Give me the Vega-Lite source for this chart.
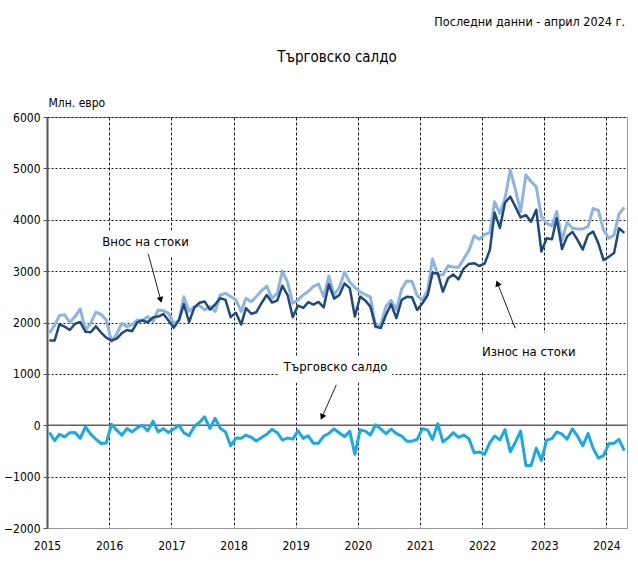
{
  "$schema": "https://vega.github.io/schema/vega-lite/v6.json",
  "width": 580,
  "height": 411,
  "autosize": {"type": "none"},
  "padding": {"left": 47, "top": 117, "right": 11, "bottom": 38},
  "background": "white",
  "config": {
    "font": "Liberation Sans Narrow, DejaVu Sans Condensed, sans-serif",
    "view": {"stroke": "#9a9a9a", "strokeWidth": 1},
    "axis": {
      "labelFont": "Liberation Sans Narrow, DejaVu Sans Condensed, sans-serif",
      "labelFontSize": 12,
      "labelColor": "#000000",
      "titleFont": "Liberation Sans Narrow, DejaVu Sans Condensed, sans-serif"
    }
  },
  "datasets": {
    "trade": [
      {"month": "2015-01-15", "imports": 1790, "exports": 1650, "balance": -140},
      {"month": "2015-02-15", "imports": 1950, "exports": 1650, "balance": -300},
      {"month": "2015-03-15", "imports": 2135, "exports": 1965, "balance": -175},
      {"month": "2015-04-15", "imports": 2150, "exports": 1920, "balance": -225},
      {"month": "2015-05-15", "imports": 2000, "exports": 1855, "balance": -145},
      {"month": "2015-06-15", "imports": 2115, "exports": 1975, "balance": -140},
      {"month": "2015-07-15", "imports": 2265, "exports": 2010, "balance": -255},
      {"month": "2015-08-15", "imports": 1850, "exports": 1820, "balance": -30},
      {"month": "2015-09-15", "imports": 1990, "exports": 1810, "balance": -175},
      {"month": "2015-10-15", "imports": 2200, "exports": 1925, "balance": -270},
      {"month": "2015-11-15", "imports": 2160, "exports": 1805, "balance": -355},
      {"month": "2015-12-15", "imports": 2050, "exports": 1705, "balance": -345},
      {"month": "2016-01-15", "imports": 1630, "exports": 1650, "balance": 20},
      {"month": "2016-02-15", "imports": 1780, "exports": 1685, "balance": -95},
      {"month": "2016-03-15", "imports": 1985, "exports": 1790, "balance": -195},
      {"month": "2016-04-15", "imports": 1920, "exports": 1855, "balance": -65},
      {"month": "2016-05-15", "imports": 1960, "exports": 1830, "balance": -130},
      {"month": "2016-06-15", "imports": 2050, "exports": 2005, "balance": -45},
      {"month": "2016-07-15", "imports": 2040, "exports": 2040, "balance": 0},
      {"month": "2016-08-15", "imports": 2115, "exports": 2005, "balance": -110},
      {"month": "2016-09-15", "imports": 2020, "exports": 2100, "balance": 80},
      {"month": "2016-10-15", "imports": 2245, "exports": 2115, "balance": -130},
      {"month": "2016-11-15", "imports": 2230, "exports": 2165, "balance": -65},
      {"month": "2016-12-15", "imports": 2180, "exports": 2040, "balance": -140},
      {"month": "2017-01-15", "imports": 1975, "exports": 1900, "balance": -75},
      {"month": "2017-02-15", "imports": 2050, "exports": 2050, "balance": 0},
      {"month": "2017-03-15", "imports": 2500, "exports": 2355, "balance": -145},
      {"month": "2017-04-15", "imports": 2215, "exports": 2010, "balance": -205},
      {"month": "2017-05-15", "imports": 2310, "exports": 2285, "balance": -25},
      {"month": "2017-06-15", "imports": 2330, "exports": 2385, "balance": 55},
      {"month": "2017-07-15", "imports": 2245, "exports": 2410, "balance": 165},
      {"month": "2017-08-15", "imports": 2310, "exports": 2250, "balance": -60},
      {"month": "2017-09-15", "imports": 2215, "exports": 2350, "balance": 135},
      {"month": "2017-10-15", "imports": 2535, "exports": 2475, "balance": -60},
      {"month": "2017-11-15", "imports": 2570, "exports": 2440, "balance": -130},
      {"month": "2017-12-15", "imports": 2505, "exports": 2105, "balance": -400},
      {"month": "2018-01-15", "imports": 2440, "exports": 2190, "balance": -250},
      {"month": "2018-02-15", "imports": 2215, "exports": 1960, "balance": -255},
      {"month": "2018-03-15", "imports": 2470, "exports": 2280, "balance": -190},
      {"month": "2018-04-15", "imports": 2405, "exports": 2170, "balance": -235},
      {"month": "2018-05-15", "imports": 2505, "exports": 2200, "balance": -305},
      {"month": "2018-06-15", "imports": 2620, "exports": 2380, "balance": -240},
      {"month": "2018-07-15", "imports": 2710, "exports": 2535, "balance": -175},
      {"month": "2018-08-15", "imports": 2470, "exports": 2390, "balance": -80},
      {"month": "2018-09-15", "imports": 2570, "exports": 2425, "balance": -145},
      {"month": "2018-10-15", "imports": 3000, "exports": 2715, "balance": -285},
      {"month": "2018-11-15", "imports": 2780, "exports": 2530, "balance": -250},
      {"month": "2018-12-15", "imports": 2375, "exports": 2105, "balance": -270},
      {"month": "2019-01-15", "imports": 2440, "exports": 2330, "balance": -110},
      {"month": "2019-02-15", "imports": 2540, "exports": 2285, "balance": -255},
      {"month": "2019-03-15", "imports": 2600, "exports": 2395, "balance": -205},
      {"month": "2019-04-15", "imports": 2700, "exports": 2350, "balance": -350},
      {"month": "2019-05-15", "imports": 2750, "exports": 2400, "balance": -350},
      {"month": "2019-06-15", "imports": 2505, "exports": 2295, "balance": -210},
      {"month": "2019-07-15", "imports": 2905, "exports": 2745, "balance": -160},
      {"month": "2019-08-15", "imports": 2535, "exports": 2465, "balance": -70},
      {"month": "2019-09-15", "imports": 2685, "exports": 2535, "balance": -150},
      {"month": "2019-10-15", "imports": 2980, "exports": 2760, "balance": -220},
      {"month": "2019-11-15", "imports": 2790, "exports": 2670, "balance": -120},
      {"month": "2019-12-15", "imports": 2680, "exports": 2115, "balance": -565},
      {"month": "2020-01-15", "imports": 2595, "exports": 2505, "balance": -90},
      {"month": "2020-02-15", "imports": 2540, "exports": 2425, "balance": -115},
      {"month": "2020-03-15", "imports": 2500, "exports": 2310, "balance": -190},
      {"month": "2020-04-15", "imports": 1910, "exports": 1920, "balance": 10},
      {"month": "2020-05-15", "imports": 1960, "exports": 1890, "balance": -70},
      {"month": "2020-06-15", "imports": 2315, "exports": 2150, "balance": -165},
      {"month": "2020-07-15", "imports": 2430, "exports": 2355, "balance": -75},
      {"month": "2020-08-15", "imports": 2250, "exports": 2085, "balance": -165},
      {"month": "2020-09-15", "imports": 2650, "exports": 2440, "balance": -210},
      {"month": "2020-10-15", "imports": 2810, "exports": 2500, "balance": -310},
      {"month": "2020-11-15", "imports": 2800, "exports": 2490, "balance": -310},
      {"month": "2020-12-15", "imports": 2520, "exports": 2245, "balance": -275},
      {"month": "2021-01-15", "imports": 2440, "exports": 2375, "balance": -65},
      {"month": "2021-02-15", "imports": 2630, "exports": 2535, "balance": -95},
      {"month": "2021-03-15", "imports": 3235, "exports": 2960, "balance": -275},
      {"month": "2021-04-15", "imports": 2930, "exports": 2960, "balance": 30},
      {"month": "2021-05-15", "imports": 2925, "exports": 2600, "balance": -325},
      {"month": "2021-06-15", "imports": 3105, "exports": 2860, "balance": -245},
      {"month": "2021-07-15", "imports": 3080, "exports": 2935, "balance": -145},
      {"month": "2021-08-15", "imports": 3075, "exports": 2840, "balance": -235},
      {"month": "2021-09-15", "imports": 3240, "exports": 3050, "balance": -190},
      {"month": "2021-10-15", "imports": 3400, "exports": 3140, "balance": -260},
      {"month": "2021-11-15", "imports": 3690, "exports": 3155, "balance": -535},
      {"month": "2021-12-15", "imports": 3620, "exports": 3100, "balance": -520},
      {"month": "2022-01-15", "imports": 3710, "exports": 3145, "balance": -565},
      {"month": "2022-02-15", "imports": 3750, "exports": 3410, "balance": -340},
      {"month": "2022-03-15", "imports": 4350, "exports": 4140, "balance": -210},
      {"month": "2022-04-15", "imports": 4125, "exports": 3840, "balance": -285},
      {"month": "2022-05-15", "imports": 4415, "exports": 4330, "balance": -85},
      {"month": "2022-06-15", "imports": 4965, "exports": 4450, "balance": -515},
      {"month": "2022-07-15", "imports": 4590, "exports": 4255, "balance": -335},
      {"month": "2022-08-15", "imports": 4160, "exports": 4045, "balance": -115},
      {"month": "2022-09-15", "imports": 4875, "exports": 4090, "balance": -785},
      {"month": "2022-10-15", "imports": 4745, "exports": 3960, "balance": -785},
      {"month": "2022-11-15", "imports": 4640, "exports": 4195, "balance": -445},
      {"month": "2022-12-15", "imports": 4065, "exports": 3380, "balance": -685},
      {"month": "2023-01-15", "imports": 3930, "exports": 3640, "balance": -290},
      {"month": "2023-02-15", "imports": 3880, "exports": 3620, "balance": -260},
      {"month": "2023-03-15", "imports": 4160, "exports": 4030, "balance": -130},
      {"month": "2023-04-15", "imports": 3605, "exports": 3430, "balance": -175},
      {"month": "2023-05-15", "imports": 3945, "exports": 3675, "balance": -270},
      {"month": "2023-06-15", "imports": 3835, "exports": 3765, "balance": -70},
      {"month": "2023-07-15", "imports": 3820, "exports": 3610, "balance": -210},
      {"month": "2023-08-15", "imports": 3820, "exports": 3420, "balance": -400},
      {"month": "2023-09-15", "imports": 3865, "exports": 3705, "balance": -160},
      {"month": "2023-10-15", "imports": 4220, "exports": 3770, "balance": -450},
      {"month": "2023-11-15", "imports": 4180, "exports": 3540, "balance": -640},
      {"month": "2023-12-15", "imports": 3805, "exports": 3215, "balance": -590},
      {"month": "2024-01-15", "imports": 3640, "exports": 3280, "balance": -360},
      {"month": "2024-02-15", "imports": 3705, "exports": 3355, "balance": -350},
      {"month": "2024-03-15", "imports": 4110, "exports": 3835, "balance": -275},
      {"month": "2024-04-15", "imports": 4240, "exports": 3745, "balance": -495}
    ],
    "labels": [
      {"label": "Внос на стоки", "date": "2016-08-02", "v": 3574, "x0": "2015-11-25", "x1": "2017-04-14", "y0": 3276, "y1": 3798},
      {"label": "Търговско салдо", "date": "2019-08-24", "v": 1142, "x0": "2018-09-20", "x1": "2020-07-21", "y0": 825, "y1": 1350},
      {"label": "Износ на стоки", "date": "2022-10-02", "v": 1434, "x0": "2021-12-10", "x1": "2023-08-01", "y0": 1058, "y1": 1798}
    ],
    "arrows": [
      {"label": "Внос на стоки", "xa": "2016-08-18", "ya": 3335, "xb": "2016-10-30", "yb": 2440},
      {"label": "Търговско салдо", "xa": "2019-08-28", "ya": 786, "xb": "2019-06-05", "yb": 158},
      {"label": "Износ на стоки", "xa": "2022-07-14", "ya": 1889, "xb": "2022-04-01", "yb": 2765}
    ],
    "note": [
      {"text": "Последни данни - април 2024 г.", "date": "2024-05-01", "v": 7848}
    ],
    "heading": [
      {"text": "Търговско салдо", "date": "2019-09-01", "v": 7167}
    ],
    "zero": [{"v": 0}]
  },
  "layer": [
    {
      "data": {"name": "zero"},
      "mark": {"type": "rule", "color": "#606060", "strokeWidth": 1.5},
      "encoding": {
        "y": {
          "field": "v", "type": "quantitative",
          "title": "Млн. евро",
          "scale": {"domain": [-2000, 6000], "nice": false, "zero": false},
          "axis": {
            "values": [-2000, -1000, 0, 1000, 2000, 3000, 4000, 5000, 6000],
            "format": "d",
            "grid": true,
            "gridColor": "#1a1a1a",
            "gridDash": [2, 2],
            "gridWidth": 1,
            "ticks": true,
            "tickSize": 4,
            "tickColor": "#555555",
            "domain": true,
            "domainColor": "#555555",
            "domainWidth": 2,
            "labelPadding": 3,
            "title": "Млн. евро",
            "titleAngle": 0,
            "titleAlign": "left",
            "titleBaseline": "alphabetic",
            "titleX": 1,
            "titleY": -11,
            "titleFontSize": 12,
            "titleFontWeight": "normal",
            "titleColor": "#000000"
          }
        }
      }
    },
    {
      "data": {"name": "labels"},
      "mark": {"type": "rect", "fill": "white"},
      "encoding": {
        "x": {"field": "x0", "type": "temporal", "title": null, "scale": {"type": "utc", "domain": [{"year": 2015, "month": 1, "date": 1, "utc": true}, {"year": 2024, "month": 5, "date": 1, "utc": true}]}},
        "x2": {"field": "x1"},
        "y": {"field": "y0", "type": "quantitative", "title": "Млн. евро", "scale": {"domain": [-2000, 6000], "nice": false, "zero": false}},
        "y2": {"field": "y1"}
      }
    },
    {
      "data": {"name": "trade"},
      "mark": {"type": "line", "color": "#8DB4E2", "strokeWidth": 3, "strokeJoin": "round"},
      "encoding": {
        "x": {
          "field": "month", "type": "temporal",
          "title": null,
          "scale": {"type": "utc", "domain": [{"year": 2015, "month": 1, "date": 1, "utc": true}, {"year": 2024, "month": 5, "date": 1, "utc": true}]},
          "axis": {
            "tickCount": {"interval": "year", "step": 1},
            "format": "%Y",
            "grid": true,
            "gridColor": "#1a1a1a",
            "gridDash": [3, 2],
            "gridWidth": 1,
            "ticks": false,
            "tickSize": 0,
            "domain": true,
            "domainColor": "#9a9a9a",
            "labelPadding": 12,
            "labelDx": 3,
            "labelAlign": "center",
            "labelFlush": false,
            "labelOverlap": false,
            "title": null
          }
        },
        "y": {"field": "imports", "type": "quantitative", "title": "Млн. евро", "scale": {"domain": [-2000, 6000], "nice": false, "zero": false}}
      }
    },
    {
      "data": {"name": "trade"},
      "mark": {"type": "line", "color": "#1F497D", "strokeWidth": 2.5, "strokeJoin": "round"},
      "encoding": {
        "x": {"field": "month", "type": "temporal", "title": null, "scale": {"type": "utc", "domain": [{"year": 2015, "month": 1, "date": 1, "utc": true}, {"year": 2024, "month": 5, "date": 1, "utc": true}]}},
        "y": {"field": "exports", "type": "quantitative", "title": "Млн. евро", "scale": {"domain": [-2000, 6000], "nice": false, "zero": false}}
      }
    },
    {
      "data": {"name": "trade"},
      "mark": {"type": "line", "color": "#1AA9E8", "strokeWidth": 3, "strokeJoin": "round"},
      "encoding": {
        "x": {"field": "month", "type": "temporal", "title": null, "scale": {"type": "utc", "domain": [{"year": 2015, "month": 1, "date": 1, "utc": true}, {"year": 2024, "month": 5, "date": 1, "utc": true}]}},
        "y": {"field": "balance", "type": "quantitative", "title": "Млн. евро", "scale": {"domain": [-2000, 6000], "nice": false, "zero": false}}
      }
    },
    {
      "data": {"name": "labels"},
      "mark": {"type": "text", "fontSize": 13, "color": "#000000", "align": "center", "baseline": "middle"},
      "encoding": {
        "x": {"field": "date", "type": "temporal", "title": null, "scale": {"type": "utc", "domain": [{"year": 2015, "month": 1, "date": 1, "utc": true}, {"year": 2024, "month": 5, "date": 1, "utc": true}]}},
        "y": {"field": "v", "type": "quantitative", "title": "Млн. евро", "scale": {"domain": [-2000, 6000], "nice": false, "zero": false}},
        "text": {"field": "label"}
      }
    },
    {
      "data": {"name": "note"},
      "mark": {"type": "text", "fontSize": 12.5, "color": "#000000", "align": "right", "baseline": "middle", "dx": -2},
      "encoding": {
        "x": {"field": "date", "type": "temporal", "title": null, "scale": {"type": "utc", "domain": [{"year": 2015, "month": 1, "date": 1, "utc": true}, {"year": 2024, "month": 5, "date": 1, "utc": true}]}},
        "y": {"field": "v", "type": "quantitative", "title": "Млн. евро", "scale": {"domain": [-2000, 6000], "nice": false, "zero": false}},
        "text": {"field": "text"}
      }
    },
    {
      "data": {"name": "heading"},
      "mark": {"type": "text", "fontSize": 15, "color": "#000000", "align": "center", "baseline": "middle"},
      "encoding": {
        "x": {"field": "date", "type": "temporal", "title": null, "scale": {"type": "utc", "domain": [{"year": 2015, "month": 1, "date": 1, "utc": true}, {"year": 2024, "month": 5, "date": 1, "utc": true}]}},
        "y": {"field": "v", "type": "quantitative", "title": "Млн. евро", "scale": {"domain": [-2000, 6000], "nice": false, "zero": false}},
        "text": {"field": "text"}
      }
    },
    {
      "data": {"name": "arrows"},
      "mark": {"type": "rule", "color": "#222222", "strokeWidth": 1},
      "encoding": {
        "x": {"field": "xa", "type": "temporal", "title": null, "scale": {"type": "utc", "domain": [{"year": 2015, "month": 1, "date": 1, "utc": true}, {"year": 2024, "month": 5, "date": 1, "utc": true}]}},
        "x2": {"field": "xb"},
        "y": {"field": "ya", "type": "quantitative", "title": "Млн. евро", "scale": {"domain": [-2000, 6000], "nice": false, "zero": false}},
        "y2": {"field": "yb"}
      }
    },
    {
      "data": {"name": "arrows"},
      "transform": [{"filter": "datum.label === 'Внос на стоки'"}],
      "mark": {"type": "point", "shape": "triangle-down", "filled": true, "color": "#000000", "size": 45, "angle": 345, "opacity": 1},
      "encoding": {
        "x": {"field": "xb", "type": "temporal", "title": null, "scale": {"type": "utc", "domain": [{"year": 2015, "month": 1, "date": 1, "utc": true}, {"year": 2024, "month": 5, "date": 1, "utc": true}]}},
        "y": {"field": "yb", "type": "quantitative", "title": "Млн. евро", "scale": {"domain": [-2000, 6000], "nice": false, "zero": false}}
      }
    },
    {
      "data": {"name": "arrows"},
      "transform": [{"filter": "datum.label === 'Търговско салдо'"}],
      "mark": {"type": "point", "shape": "triangle-down", "filled": true, "color": "#000000", "size": 45, "angle": 24, "opacity": 1},
      "encoding": {
        "x": {"field": "xb", "type": "temporal", "title": null, "scale": {"type": "utc", "domain": [{"year": 2015, "month": 1, "date": 1, "utc": true}, {"year": 2024, "month": 5, "date": 1, "utc": true}]}},
        "y": {"field": "yb", "type": "quantitative", "title": "Млн. евро", "scale": {"domain": [-2000, 6000], "nice": false, "zero": false}}
      }
    },
    {
      "data": {"name": "arrows"},
      "transform": [{"filter": "datum.label === 'Износ на стоки'"}],
      "mark": {"type": "point", "shape": "triangle-down", "filled": true, "color": "#000000", "size": 45, "angle": 158, "opacity": 1},
      "encoding": {
        "x": {"field": "xb", "type": "temporal", "title": null, "scale": {"type": "utc", "domain": [{"year": 2015, "month": 1, "date": 1, "utc": true}, {"year": 2024, "month": 5, "date": 1, "utc": true}]}},
        "y": {"field": "yb", "type": "quantitative", "title": "Млн. евро", "scale": {"domain": [-2000, 6000], "nice": false, "zero": false}}
      }
    }
  ]
}
